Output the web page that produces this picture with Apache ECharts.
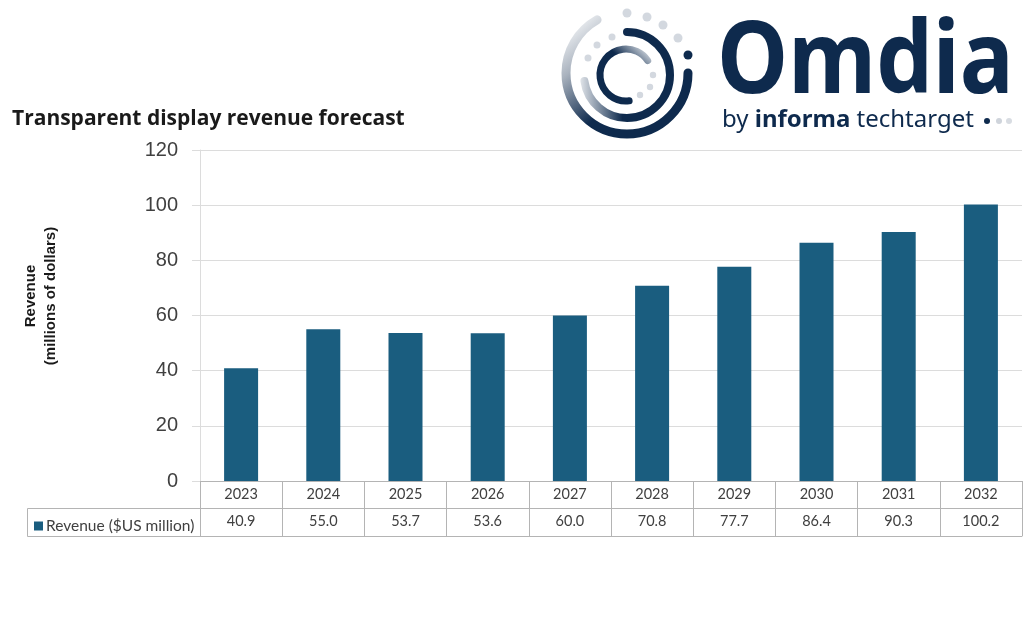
<!DOCTYPE html>
<html><head><meta charset="utf-8">
<script src="https://cdn.jsdelivr.net/npm/echarts@6/dist/echarts.min.js"></script>
<style>html,body{margin:0;padding:0;background:#fff}#c{width:1024px;height:626px}</style>
</head><body><div id="c"></div>
<script>
var years = ['2023','2024','2025','2026','2027','2028','2029','2030','2031','2032'];
var revenue = [40.9, 55.0, 53.7, 53.6, 60.0, 70.8, 77.7, 86.4, 90.3, 100.2];
var yTicks = {min: 0, max: 120, interval: 20};
var seriesName = 'Revenue ($US million)';
var titleText = 'Transparent display revenue forecast';
var yName = 'Revenue\n(millions of dollars)';

var NAVY = '#0e2a4d';
var BAR = '#1a5d7f';
var LINE = '#b4b4b4';
var GRID = '#dcdcdc';
var TXT = '#404040';

var chart = echarts.init(document.getElementById('c'), null, {renderer: 'canvas'});

function lg(x, y, x2, y2, stops) {
  return new echarts.graphic.LinearGradient(x, y, x2, y2, stops.map(function (s) { return {offset: s[0], color: s[1]}; }));
}
function dot(cx, cy, r, color) {
  return {type: 'circle', shape: {cx: cx, cy: cy, r: r}, style: {fill: color}, silent: true};
}
var LIGHT = '#d3d8df';

var logo = [
  {type: 'arc', shape: {cx: 627, cy: 73, r: 61, startAngle: 0, endAngle: 4.2, clockwise: true},
   style: {fill: null, lineWidth: 9, lineCap: 'round',
     stroke: lg(0, 0, 0.8, 1, [[0.08, '#f2f4f6'], [0.3, '#a9b2be'], [0.62, NAVY], [1, NAVY]])}},
  {type: 'arc', shape: {cx: 627, cy: 75, r: 43, startAngle: -Math.PI / 2, endAngle: 3.0, clockwise: true},
   style: {fill: null, lineWidth: 8, lineCap: 'round',
     stroke: lg(1, 0, 0, 0, [[0, NAVY], [0.55, NAVY], [1, '#dfe3e8']])}},
  {type: 'arc', shape: {cx: 626, cy: 75, r: 26, startAngle: 1.45, endAngle: 5.7, clockwise: true},
   style: {fill: null, lineWidth: 7, lineCap: 'round',
     stroke: lg(0, 1, 1, 0, [[0, NAVY], [0.62, NAVY], [0.95, '#e2e6eb']])}},
  dot(627, 13, 4.5, LIGHT), dot(647, 17, 4.5, LIGHT), dot(663, 25, 4.5, LIGHT), dot(678, 38, 4.5, LIGHT),
  dot(688, 55, 4.5, NAVY),
  dot(612, 37, 3.5, LIGHT), dot(597, 45, 3.5, LIGHT), dot(588, 58, 3.5, LIGHT),
  dot(653, 75, 3.2, LIGHT), dot(650, 87, 3.2, LIGHT), dot(640, 95, 3.2, LIGHT),
  {type: 'text', x: 717, y: 115, scaleX: 0.9, style: {text: 'Omdia', fill: NAVY, font: 'bold 100px "Noto Sans"', textAlign: 'left', textVerticalAlign: 'bottom'}},
  {type: 'text', x: 722, y: 120, style: {
    text: '{a|by }{b|informa}{a| techtarget}', textAlign: 'left', textVerticalAlign: 'middle',
    rich: {a: {fontFamily: 'Noto Sans', fontSize: 24, fill: NAVY, color: NAVY},
           b: {fontFamily: 'Noto Sans', fontSize: 24, fontWeight: 'bold', fill: NAVY, color: NAVY}}}},
  dot(987, 121, 3, NAVY), dot(999, 121, 3, '#cfd4db'), dot(1009, 121, 3, '#d8dce2')
];

var option = {
  animation: false,
  backgroundColor: '#fff',
  grid: {left: 200, right: 2, top: 150, bottom: 145, containLabel: false},
  legend: {
    left: 29, top: 513, itemWidth: 9, itemHeight: 9, icon: 'rect',
    data: [seriesName],
    textStyle: {fontFamily: 'Lato', fontSize: 15.5, color: TXT, padding: [0, 0, 0, -2]}
  },
  yAxis: {
    type: 'value', min: yTicks.min, max: yTicks.max, interval: yTicks.interval,
    axisLine: {show: true, lineStyle: {color: GRID, width: 1}},
    axisTick: {show: true, length: 8, lineStyle: {color: GRID}},
    splitLine: {lineStyle: {color: GRID, width: 1}},
    axisLabel: {fontFamily: 'Liberation Sans', fontSize: 20, color: TXT, margin: 22}
  },
  xAxis: [
    {type: 'category', data: years, position: 'bottom',
     axisLine: {lineStyle: {color: LINE}},
     axisTick: {show: true, length: 55, interval: 0, lineStyle: {color: LINE}},
     axisLabel: {fontFamily: 'Lato', fontSize: 14.5, color: TXT, margin: 6, interval: 0}},
    {type: 'category', data: years, position: 'bottom', offset: 27,
     axisLine: {lineStyle: {color: LINE}},
     axisTick: {show: false},
     axisLabel: {fontFamily: 'Lato', fontSize: 14.5, color: TXT, margin: 6, interval: 0,
       formatter: function (v, i) { return revenue[i].toFixed(1); }}},
    {type: 'category', data: years, position: 'bottom', offset: 55,
     axisLine: {lineStyle: {color: LINE}},
     axisTick: {show: false}, axisLabel: {show: false}}
  ],
  series: [{
    name: seriesName, type: 'bar', xAxisIndex: 0, data: revenue,
    barWidth: 34, itemStyle: {color: BAR}
  }],
  graphic: [
    {type: 'text', x: 12, y: 119, style: {text: titleText, fill: '#1a1a1a', font: 'bold 21px "Open Sans"', textAlign: 'left', textVerticalAlign: 'middle'}},
    {type: 'text', x: 41, y: 296, rotation: Math.PI / 2, style: {text: yName, fill: '#1a1a1a', font: 'bold 15px "Liberation Sans"', textAlign: 'center', textVerticalAlign: 'middle', lineHeight: 20}},
    {type: 'polyline', shape: {points: [[200, 508.5], [27.5, 508.5], [27.5, 536.5], [200, 536.5]]}, style: {stroke: LINE, fill: null, lineWidth: 1}}
  ].concat(logo)
};
chart.setOption(option);
</script></body></html>
